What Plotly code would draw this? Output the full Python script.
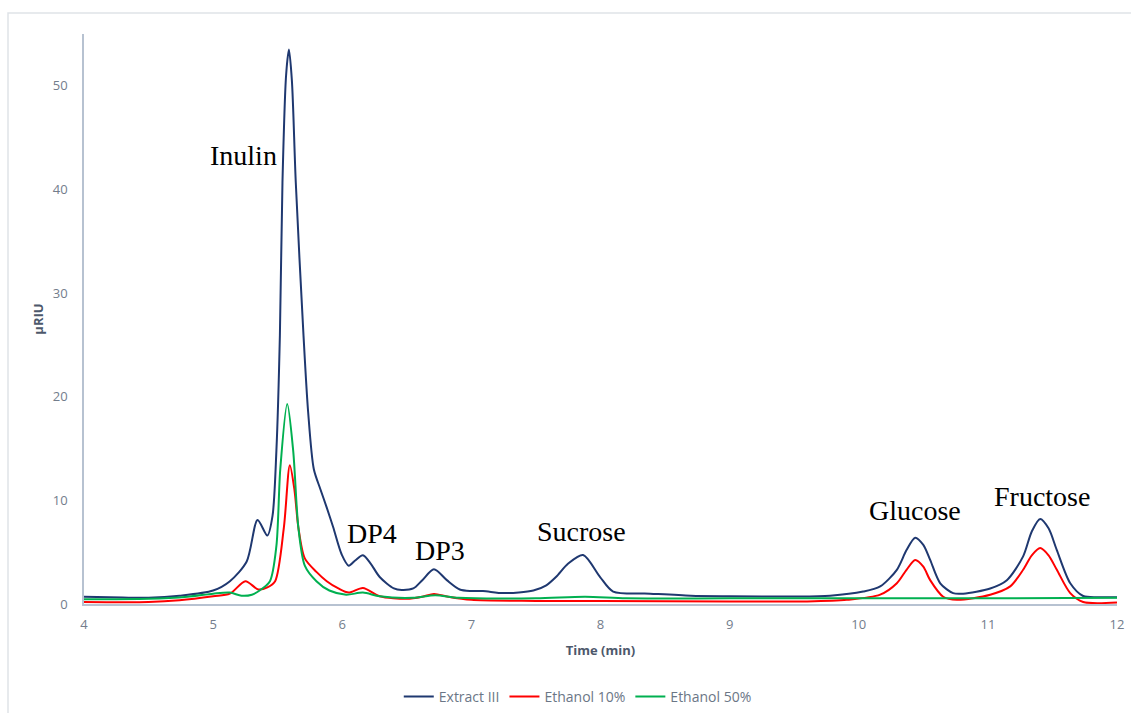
import plotly.graph_objects as go

# ---- data ----
extract_x = [4.0, 4.3, 4.5, 4.74, 5.0, 5.13, 5.26, 5.344, 5.42, 5.46, 5.49, 5.517, 5.537, 5.565, 5.587,
             5.61, 5.64, 5.70, 5.736, 5.78, 5.83, 5.88, 5.93, 5.995, 6.05, 6.10, 6.16, 6.22, 6.29, 6.40,
             6.46, 6.55, 6.62, 6.71, 6.81, 6.91, 7.0, 7.09, 7.25, 7.48, 7.58, 7.655, 7.75, 7.865, 7.997, 8.098,
             8.384, 8.7, 9.0, 9.5, 9.778, 10.034, 10.166, 10.295, 10.37, 10.437, 10.50, 10.553, 10.631,
             10.731, 10.809, 11.018, 11.147, 11.273, 11.34, 11.405, 11.47, 11.534, 11.638, 11.738, 11.85, 12.0]
extract_y = [0.7, 0.62, 0.6, 0.8, 1.3, 2.2, 4.1, 8.1, 6.6, 8.5, 14.8, 25.9, 40.7, 51.0, 53.5,
             50.5, 40.7, 25.9, 18.5, 13.0, 11.1, 9.3, 7.4, 4.8, 3.7, 4.2, 4.7, 3.9, 2.6, 1.5,
             1.35, 1.5, 2.3, 3.35, 2.3, 1.4, 1.25, 1.25, 1.05, 1.3, 1.8, 2.6, 3.9, 4.73, 2.6, 1.2,
             1.0, 0.8, 0.75, 0.72, 0.8, 1.2, 1.7, 3.3, 5.2, 6.4, 5.7, 4.25, 2.0,
             1.05, 1.0, 1.5, 2.3, 4.6, 7.0, 8.2, 7.3, 5.2, 2.0, 0.77, 0.65, 0.65]

eth10_x = [4.0, 4.5, 4.74, 5.0, 5.13, 5.25, 5.35, 5.42, 5.48, 5.548, 5.594, 5.63, 5.66, 5.71, 5.80,
           5.88, 5.97, 6.05, 6.16, 6.29, 6.5, 6.62, 6.71, 6.82, 7.0, 7.5, 8.0, 9.0, 9.6, 9.908,
           10.166, 10.295, 10.37, 10.437, 10.50, 10.553, 10.654, 10.76, 11.018, 11.173, 11.273,
           11.34, 11.405, 11.47, 11.534, 11.638, 11.738, 12.0]
eth10_y = [0.2, 0.2, 0.37, 0.75, 1.0, 2.2, 1.4, 1.6, 2.2, 7.4, 13.4, 11.0, 7.4, 4.4, 3.1,
           2.2, 1.5, 1.1, 1.55, 0.75, 0.5, 0.7, 0.97, 0.7, 0.4, 0.3, 0.28, 0.25, 0.25, 0.4,
           0.9, 2.0, 3.3, 4.25, 3.6, 2.3, 0.7, 0.4, 0.9, 1.7, 3.3,
           4.7, 5.4, 4.7, 3.3, 1.05, 0.2, 0.15]

eth50_x = [4.0, 4.5, 4.8, 5.0, 5.13, 5.22, 5.30, 5.36, 5.44, 5.49, 5.52, 5.574, 5.62, 5.66, 5.71,
           5.80, 5.90, 6.03, 6.16, 6.29, 6.55, 6.72, 6.9, 7.5, 7.88, 8.2, 9.0, 10.0, 11.0, 12.0]
eth50_y = [0.45, 0.5, 0.7, 1.0, 1.1, 0.8, 0.9, 1.3, 2.2, 5.6, 13.0, 19.3, 14.8, 7.4, 3.7,
           2.2, 1.3, 0.9, 1.1, 0.74, 0.6, 0.85, 0.6, 0.55, 0.7, 0.55, 0.55, 0.55, 0.55, 0.6]

series_names = ["Extract III", "Ethanol 10%", "Ethanol 50%"]
series_colors = ["#1f3870", "#ff0000", "#00b050"]

peak_labels = ["Inulin", "DP4", "DP3", "Sucrose", "Glucose", "Fructose"]
label_x = [5.232, 6.231, 6.757, 7.849, 10.437, 11.42]
label_y = [43.3, 6.85, 5.12, 6.95, 9.07, 10.42]

x_ticks = [4, 5, 6, 7, 8, 9, 10, 11, 12]
y_ticks = [0, 10, 20, 30, 40, 50]

fig = go.Figure()
for xs, ys, name, col in zip([extract_x, eth10_x, eth50_x], [extract_y, eth10_y, eth50_y],
                             series_names, series_colors):
    fig.add_trace(go.Scatter(x=xs, y=ys, name=name, mode="lines",
                             line=dict(color=col, width=2, shape="spline", smoothing=0.8)))

for t, lx, ly in zip(peak_labels, label_x, label_y):
    fig.add_annotation(x=lx, y=ly, text=t, showarrow=False,
                       font=dict(family="Liberation Serif", size=28, color="#000000"))

# outer chart frame (only its top and left edges fall inside the page)
fig.add_shape(type="rect", xref="paper", yref="paper",
              x0=(8 - 84) / 1033, x1=1.2,
              y0=-0.5, y1=(604 - 13) / 570,
              line=dict(color="#dfe3e8", width=1.5), fillcolor="rgba(0,0,0,0)", layer="below")

tick_font = dict(family="Open Sans", size=13, color="#737d8c")
title_font = dict(family="Open Sans", size=13, color="#4d586b")

fig.update_layout(
    width=1131, height=713,
    margin=dict(l=84, r=14, t=34, b=109, autoexpand=False),
    paper_bgcolor="white", plot_bgcolor="white",
    showlegend=True,
    legend=dict(orientation="h", x=0.478, xanchor="center", y=-0.163, yanchor="middle",
                font=dict(family="Open Sans", size=14, color="#6b7686"),
                itemwidth=30, traceorder="normal"),
    xaxis=dict(range=[4, 12], tickvals=x_ticks, showgrid=False, zeroline=False, automargin=False,
               showline=True, linecolor="#b7c2d1", linewidth=1.5, ticks="",
               tickfont=tick_font, ticklabelstandoff=8,
               title=dict(text="<b>Time (min)</b>", font=title_font, standoff=14)),
    yaxis=dict(range=[0, 55], tickvals=y_ticks, showgrid=False, zeroline=False, automargin=False,
               showline=True, linecolor="#b7c2d1", linewidth=1.5, ticks="",
               tickfont=tick_font, ticklabelstandoff=12,
               title=dict(text="<b>µRIU</b>", font=title_font, standoff=6)),
)

fig.write_html("out.html", config={"displayModeBar": False},
               post_script="document.body.style.margin='0';document.body.style.overflow='hidden';")
